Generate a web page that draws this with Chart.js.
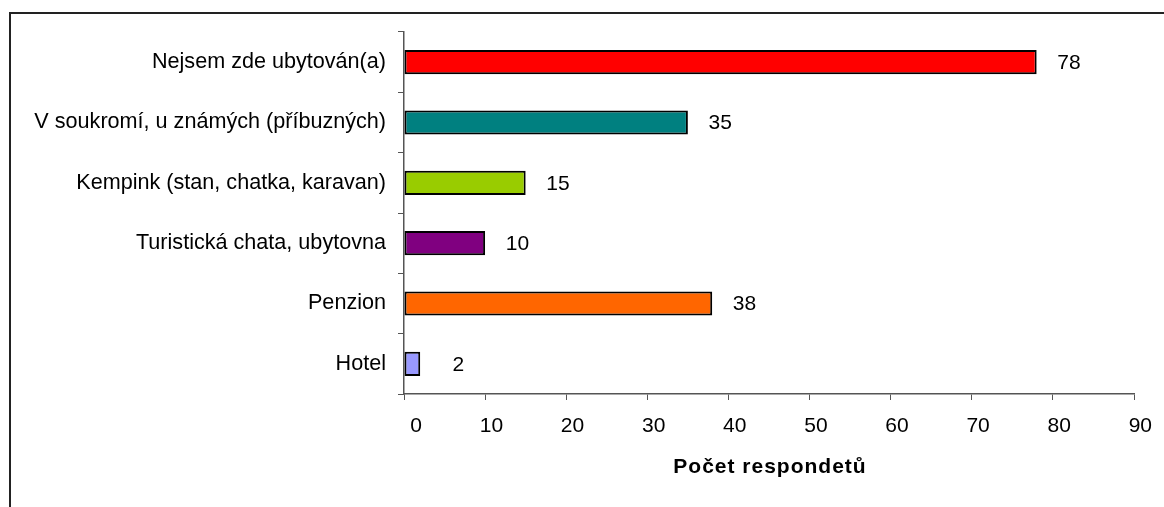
<!DOCTYPE html>
<html>
<head>
<meta charset="utf-8">
<script src="https://cdn.jsdelivr.net/npm/chart.js@4.4.1/dist/chart.umd.min.js"></script>
<style>
    html, body { margin: 0; padding: 0; background: #fff; overflow: hidden; }
    #wrap { position: relative; width: 1164px; height: 507px; }
    #frame {
        position: absolute; left: 9px; top: 12px; right: -10px; bottom: -10px;
        border-left: 2px solid #222; border-top: 2px solid #222;
        pointer-events: none;
    }
    canvas { position: absolute; left: 0; top: 0; }
</style>
</head>
<body>
<div id="wrap">
    <canvas id="chart" width="1164" height="507"></canvas>
    <div id="frame"></div>
</div>
<script>
// Data (top to bottom as shown)
const categories = [
    'Nejsem zde ubytován(a)',
    'V soukromí, u známých (příbuzných)',
    'Kempink (stan, chatka, karavan)',
    'Turistická chata, ubytovna',
    'Penzion',
    'Hotel'
];
const respondents = [78, 35, 15, 10, 38, 2];
const barColors = ['#FF0000', '#008080', '#99CC00', '#800080', '#FF6600', '#9999FF'];
const axisTitle = 'Počet respondetů';
const xMin = 0, xMax = 90, xStep = 10;

const FONT = '"Liberation Sans", Arial, sans-serif';

// Value labels: right-aligned a fixed distance past the bar end (Excel style)
const valueLabels = {
    id: 'valueLabels',
    afterDatasetsDraw(chart) {
        const ctx = chart.ctx;
        const meta = chart.getDatasetMeta(0);
        ctx.save();
        ctx.font = '21px ' + FONT;
        ctx.fillStyle = '#000';
        ctx.textAlign = 'right';
        ctx.textBaseline = 'middle';
        meta.data.forEach((bar, i) => {
            ctx.fillText(String(respondents[i]), bar.x + 44, bar.y + 1);
        });
        ctx.restore();
    }
};

// Axis title drawn by hand so it can get the wider letter spacing
const xTitle = {
    id: 'xTitle',
    afterDraw(chart) {
        const ctx = chart.ctx;
        const area = chart.chartArea;
        ctx.save();
        ctx.font = 'bold 21px ' + FONT;
        ctx.letterSpacing = '1px';
        ctx.fillStyle = '#000';
        ctx.textAlign = 'center';
        ctx.textBaseline = 'middle';
        ctx.fillText(axisTitle, (area.left + area.right) / 2 + 1, 467);
        ctx.restore();
    }
};

new Chart(document.getElementById('chart'), {
    type: 'bar',
    data: {
        labels: categories,
        datasets: [{
            data: respondents,
            backgroundColor: barColors,
            borderColor: '#000',
            borderWidth: 2,
            borderSkipped: false,
            barPercentage: 0.4,
            categoryPercentage: 1.0
        }]
    },
    options: {
        indexAxis: 'y',
        responsive: false,
        animation: false,
        layout: { padding: { top: 32, right: 30, left: 0, bottom: 0 } },
        plugins: {
            legend: { display: false },
            tooltip: { enabled: false }
        },
        scales: {
            x: {
                min: xMin,
                max: xMax,
                ticks: {
                    stepSize: xStep,
                    color: '#000',
                    padding: 14,
                    align: 'end',
                    labelOffset: 18,
                    font: { family: FONT, size: 21 }
                },
                grid: {
                    drawOnChartArea: false,
                    drawTicks: true,
                    tickLength: 6,
                    color: '#555'
                },
                border: { display: true, color: '#555', width: 1.5 },
                afterFit(scale) { scale.height = 113; }
            },
            y: {
                ticks: {
                    color: '#000',
                    padding: 12,
                    font: { family: FONT, size: 21.6 }
                },
                grid: {
                    offset: true,
                    drawOnChartArea: false,
                    drawTicks: true,
                    tickLength: 6,
                    color: '#555'
                },
                border: { display: true, color: '#555', width: 1.5 },
                afterFit(scale) { scale.width = 404; }
            }
        }
    },
    plugins: [valueLabels, xTitle]
});
</script>
</body>
</html>
